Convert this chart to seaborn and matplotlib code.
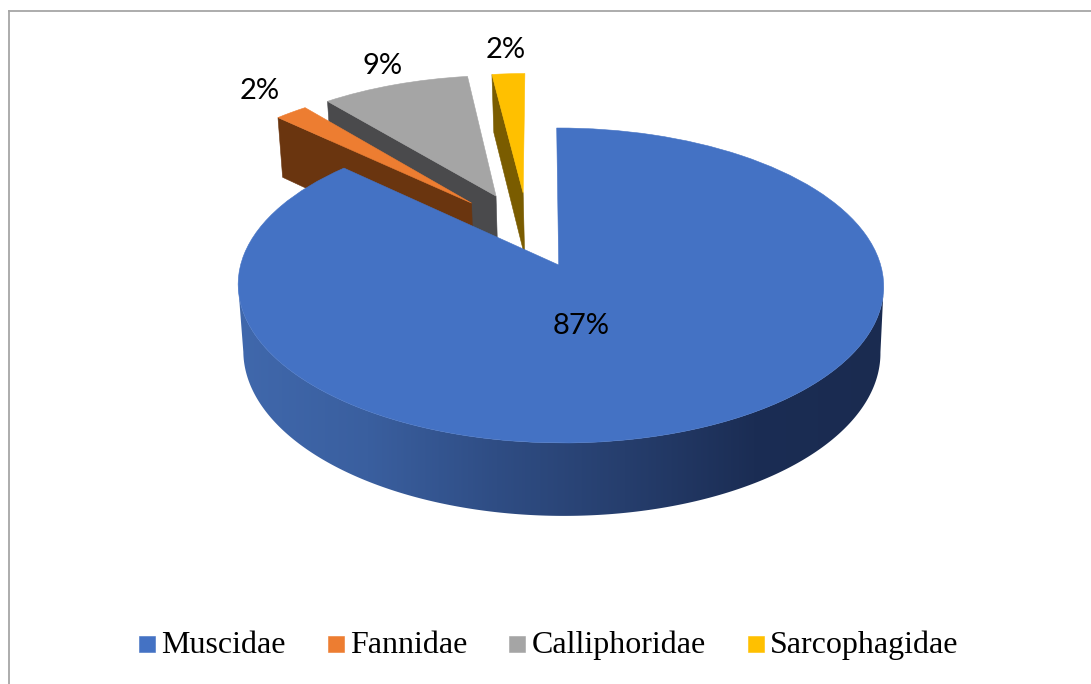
import numpy as np
import matplotlib
matplotlib.use('Agg')
import matplotlib.pyplot as plt
from matplotlib.patches import Polygon
from matplotlib.transforms import Transform
import seaborn as sns

families = ['Muscidae', 'Fannidae', 'Calliphoridae', 'Sarcophagidae']
percent = [87, 2, 9, 2]

top_colors = ['#4472c4', '#ed7d31', '#a5a5a5', '#ffc000']
wall_colors = [None, '#6a350f', '#4a4a4c', '#7a5c00']
side_ramp = ['#4068ac', '#3a5f9f', '#2f4d84', '#263e6d', '#1b2d54', '#1a2b50']

# where each slice tip sits in pie units, off the centre
tips = [(0, 0), (-0.285, 0.4225), (-0.205, 0.473), (-0.115, 0.495)]
radii = [1.0, 0.98, 0.985, 0.98]
label_pos = [(581, 326.5), (260, 91), (383, 66), (506, 50.5)]

# perspective of the tilted disc, fitted on the reference in pixels
X0, Y0 = 558.7, 265.0
A, B, C, E = 154.8, 0.13, 320.0, -0.006
SHEAR = 2.0


def project(x, y):
    w = 1 + B * y + E * x
    return X0 + C * x / w - SHEAR * y, Y0 - A * y / w


def project_low(x, y):
    # same point on the lower face of the disc
    px, py = project(x, y)
    depth = 65.7 - 0.0408 * (Y0 - py)
    return X0 + 1.0 + (px - X0) * 0.987, py + depth


class Tilt(Transform):
    input_dims = 2
    output_dims = 2

    def transform_non_affine(self, values):
        values = np.asarray(values)
        px, py = project(values[:, 0], values[:, 1])
        return np.column_stack([px, py])


sns.set_theme(style='white')

fig = plt.figure(figsize=(10.91, 6.84), dpi=100)
ax = fig.add_axes([0, 0, 1, 1])

wedges, _ = ax.pie(percent, colors=top_colors, startangle=90, counterclock=False)

tilt = Tilt() + ax.transData
for i, w in enumerate(wedges):
    w.set_center(tips[i])
    w.set_radius(radii[i])
    w.set_transform(tilt)
    w.set_zorder(10 - 2 * i)
    w.set_edgecolor(top_colors[i])
    w.set_linewidth(0.4)

# side of the big slice, shaded from left to right
# only between the two points where the rim turns, that is the outline seen from the camera
angles = np.radians(np.linspace(-172.5, -7.5, 300))
rx, ry = np.cos(angles), np.sin(angles)
tx, ty = project(rx, ry)
lx, ly = project_low(rx, ry)
outline = Polygon(np.column_stack([np.r_[tx, lx[::-1]], np.r_[ty, ly[::-1]]]), closed=True,
                  transform=ax.transData, facecolor='none', edgecolor='none')
ax.add_patch(outline)
ramp = np.array(sns.blend_palette(side_ramp, n_colors=256))[np.newaxis, :, :]
side = ax.imshow(ramp, extent=(238, 884, 530, 250), aspect='auto', zorder=9, interpolation='bilinear')
side.set_clip_path(outline)

# cut faces of the pulled out slices
for i in [1, 2, 3]:
    w = wedges[i]
    a = np.radians(w.theta2)
    cx, cy = tips[i]
    ex, ey = cx + radii[i] * np.cos(a), cy + radii[i] * np.sin(a)
    p = [project(cx, cy), project(ex, ey), project_low(ex, ey), project_low(cx, cy)]
    ax.fill([q[0] for q in p], [q[1] for q in p], color=wall_colors[i], lw=0.4, zorder=w.get_zorder() - 1)

for val, (px, py) in zip(percent, label_pos):
    ax.text(px, py, f'{val}%', ha='center', va='center', fontsize=21, color='black',
            family='Lato', zorder=20)

ax.plot([8.5, 8.5], [684, 11], color='#a6a6a6', lw=1.3, zorder=0, solid_capstyle='projecting')
ax.plot([8.5, 1091], [11, 11], color='#a6a6a6', lw=1.3, zorder=0, solid_capstyle='projecting')

ax.set_aspect('auto')
ax.set_xlim(0, 1091)
ax.set_ylim(684, 0)
ax.axis('off')

leg = ax.legend(wedges, families, ncol=4, loc='center', bbox_to_anchor=(549, 645),
                bbox_transform=ax.transData, frameon=False, borderpad=0, borderaxespad=0,
                prop={'family': 'Liberation Serif', 'size': 23}, labelcolor='black',
                handlelength=0.5, handleheight=0.392, handletextpad=0.2, columnspacing=1.31)
for h in leg.legend_handles:
    h.set_y(0.8)

fig.savefig('out.png', dpi=100)
